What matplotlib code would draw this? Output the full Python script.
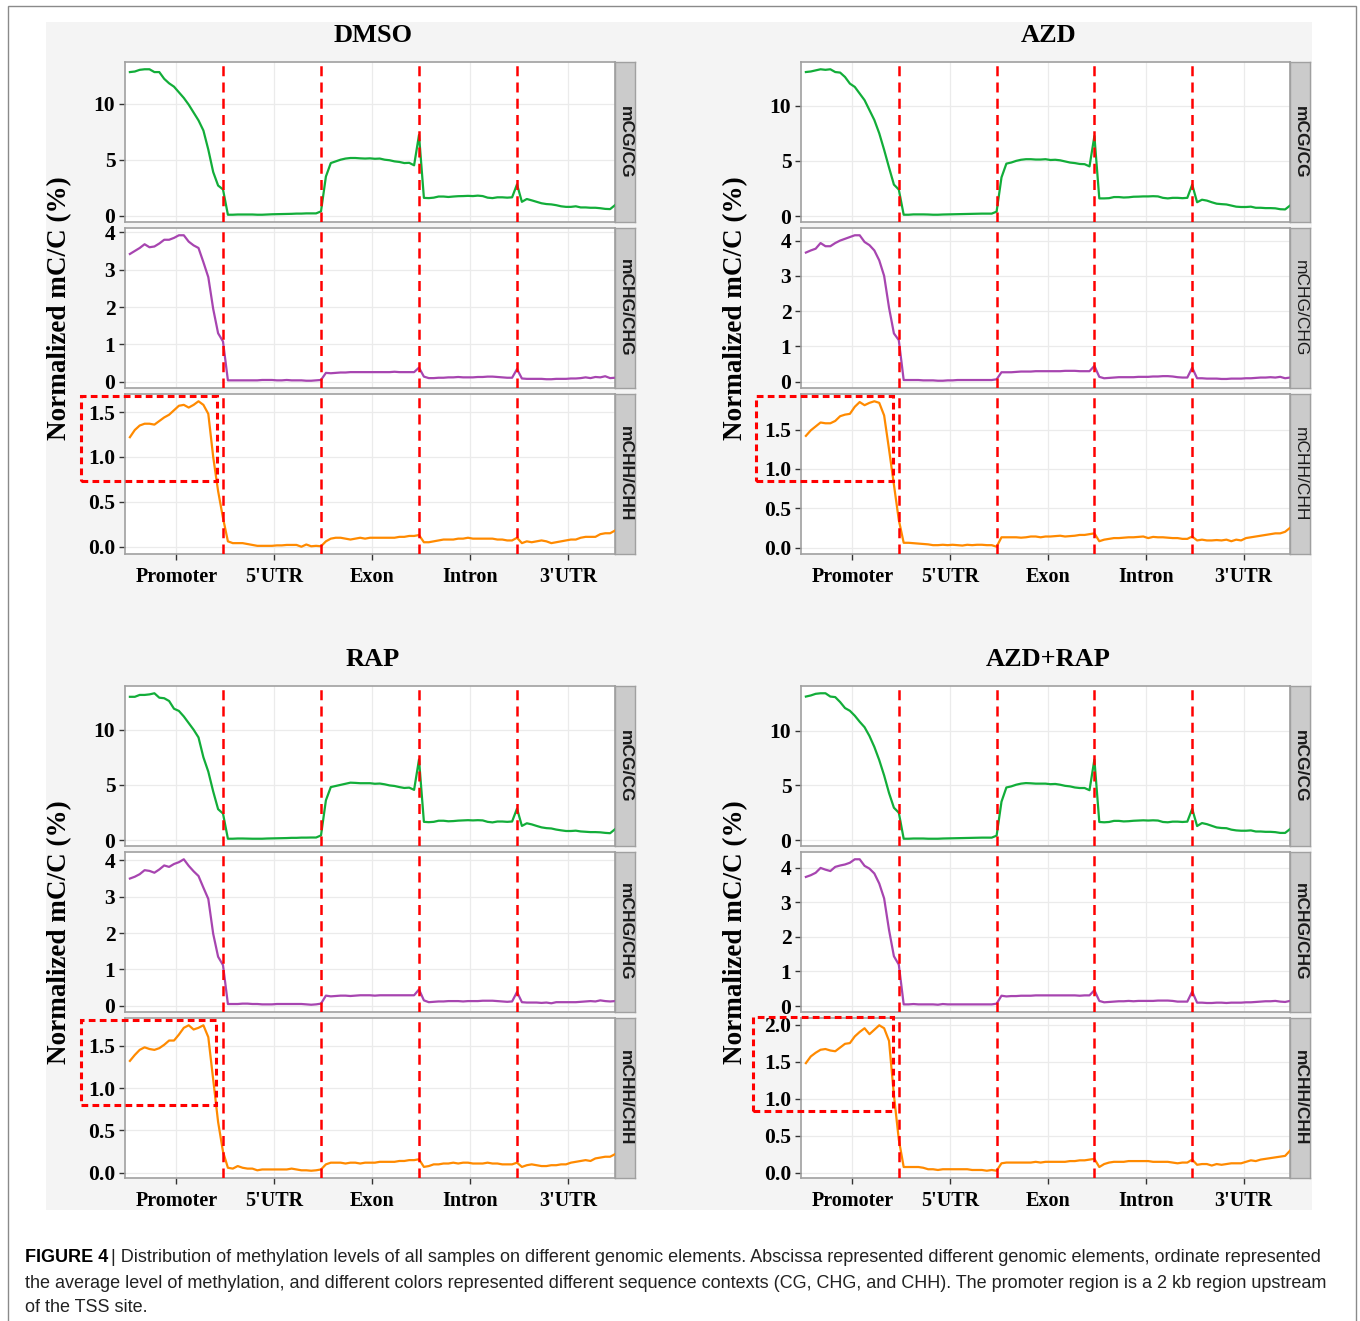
import matplotlib
matplotlib.use("Agg")
import matplotlib.pyplot as plt
from matplotlib.patches import Rectangle
from matplotlib.ticker import MultipleLocator, FormatStrFormatter

# ---- data ----
regions = ['Promoter', "5'UTR", 'Exon', 'Intron', "3'UTR"]
samples = ['DMSO', 'AZD', 'RAP', 'AZD+RAP']
contexts = ['mCG/CG', 'mCHG/CHG', 'mCHH/CHH']

# 20 bins per region, 100 bins in total
dmso_cg = [12.8, 12.85, 13.0, 13.05, 13.05, 12.8, 12.8, 12.2, 11.8, 11.5, 11.0, 10.5, 9.9, 9.2, 8.5, 7.6, 5.9, 3.9, 2.7, 2.35,
           0.1, 0.1, 0.12, 0.12, 0.12, 0.12, 0.1, 0.1, 0.12, 0.14, 0.15, 0.16, 0.17, 0.18, 0.2, 0.2, 0.22, 0.22, 0.22, 0.4,
           3.5, 4.7, 4.85, 5.0, 5.1, 5.15, 5.15, 5.12, 5.1, 5.12, 5.08, 5.1, 5.0, 4.95, 4.85, 4.8, 4.7, 4.72, 4.5, 7.2,
           1.6, 1.58, 1.62, 1.72, 1.72, 1.68, 1.72, 1.75, 1.76, 1.78, 1.76, 1.8, 1.76, 1.62, 1.58, 1.65, 1.65, 1.62, 1.65, 2.8,
           1.25, 1.5, 1.38, 1.25, 1.12, 1.05, 1.02, 0.95, 0.85, 0.8, 0.8, 0.85, 0.75, 0.75, 0.72, 0.72, 0.68, 0.62, 0.6, 0.95]
dmso_chg = [3.42, 3.5, 3.58, 3.68, 3.6, 3.62, 3.7, 3.8, 3.8, 3.85, 3.92, 3.92, 3.75, 3.65, 3.58, 3.2, 2.8, 1.95, 1.3, 1.08,
            0.04, 0.04, 0.04, 0.04, 0.04, 0.04, 0.04, 0.05, 0.05, 0.05, 0.04, 0.04, 0.05, 0.04, 0.04, 0.04, 0.03, 0.03, 0.04, 0.05,
            0.24, 0.23, 0.24, 0.25, 0.25, 0.26, 0.26, 0.26, 0.26, 0.26, 0.26, 0.26, 0.26, 0.26, 0.27, 0.26, 0.26, 0.26, 0.26, 0.38,
            0.14, 0.1, 0.1, 0.11, 0.11, 0.12, 0.12, 0.13, 0.12, 0.12, 0.12, 0.13, 0.13, 0.14, 0.14, 0.13, 0.12, 0.11, 0.11, 0.34,
            0.09, 0.08, 0.08, 0.08, 0.08, 0.07, 0.07, 0.08, 0.08, 0.08, 0.09, 0.09, 0.1, 0.12, 0.1, 0.13, 0.12, 0.15, 0.1, 0.11]
dmso_chh = [1.22, 1.3, 1.35, 1.37, 1.37, 1.36, 1.40, 1.44, 1.47, 1.52, 1.57, 1.58, 1.55, 1.58, 1.62, 1.58, 1.48, 1.0, 0.62, 0.32,
            0.06, 0.04, 0.04, 0.04, 0.03, 0.02, 0.01, 0.01, 0.01, 0.01, 0.015, 0.015, 0.02, 0.02, 0.02, 0.0, 0.025, 0.005, 0.01, 0.005,
            0.06, 0.09, 0.1, 0.1, 0.09, 0.08, 0.09, 0.1, 0.09, 0.1, 0.1, 0.1, 0.1, 0.1, 0.1, 0.11, 0.11, 0.12, 0.12, 0.13,
            0.05, 0.05, 0.06, 0.07, 0.08, 0.08, 0.08, 0.09, 0.09, 0.1, 0.09, 0.09, 0.09, 0.09, 0.09, 0.08, 0.08, 0.07, 0.07, 0.1,
            0.04, 0.06, 0.05, 0.06, 0.07, 0.06, 0.04, 0.05, 0.06, 0.07, 0.08, 0.08, 0.1, 0.11, 0.11, 0.11, 0.14, 0.15, 0.15, 0.18]

azd_cg = [13.05, 13.1, 13.2, 13.3, 13.25, 13.3, 13.05, 13.0, 12.6, 12.0, 11.7, 11.1, 10.5, 9.6, 8.7, 7.5, 6.0, 4.4, 2.85, 2.4,
          0.12, 0.12, 0.15, 0.15, 0.15, 0.14, 0.12, 0.12, 0.14, 0.15, 0.16, 0.17, 0.18, 0.19, 0.2, 0.21, 0.22, 0.22, 0.22, 0.4,
          3.5, 4.75, 4.85, 5.0, 5.1, 5.15, 5.15, 5.12, 5.12, 5.15, 5.08, 5.1, 5.05, 4.95, 4.85, 4.8, 4.72, 4.7, 4.5, 7.25,
          1.6, 1.6, 1.62, 1.72, 1.72, 1.68, 1.7, 1.75, 1.76, 1.78, 1.78, 1.8, 1.78, 1.65, 1.6, 1.65, 1.65, 1.62, 1.65, 2.85,
          1.25, 1.48, 1.4, 1.25, 1.12, 1.08, 1.05, 0.95, 0.85, 0.82, 0.82, 0.85, 0.75, 0.75, 0.72, 0.72, 0.7, 0.62, 0.6, 0.95]
azd_chg = [3.66, 3.72, 3.77, 3.93, 3.84, 3.84, 3.93, 4.0, 4.05, 4.1, 4.15, 4.15, 3.96, 3.87, 3.72, 3.44, 3.0, 2.1, 1.37, 1.18,
           0.05, 0.05, 0.05, 0.05, 0.04, 0.04, 0.04, 0.03, 0.03, 0.04, 0.04, 0.05, 0.05, 0.05, 0.05, 0.05, 0.05, 0.05, 0.05, 0.07,
           0.27, 0.27, 0.27, 0.28, 0.29, 0.29, 0.29, 0.3, 0.3, 0.3, 0.3, 0.3, 0.3, 0.31, 0.31, 0.31, 0.3, 0.3, 0.3, 0.45,
           0.14, 0.1, 0.11, 0.12, 0.13, 0.13, 0.13, 0.13, 0.14, 0.14, 0.14, 0.15, 0.15, 0.16, 0.16, 0.15, 0.13, 0.12, 0.12, 0.4,
           0.1, 0.1, 0.09, 0.09, 0.09, 0.08, 0.08, 0.09, 0.09, 0.09, 0.1, 0.1, 0.11, 0.12, 0.12, 0.13, 0.12, 0.14, 0.1, 0.12]
azd_chh = [1.42, 1.49, 1.54, 1.59, 1.58, 1.58, 1.61, 1.67, 1.69, 1.70, 1.79, 1.85, 1.81, 1.84, 1.86, 1.84, 1.68, 1.25, 0.8, 0.35,
           0.06, 0.06, 0.055, 0.05, 0.045, 0.04, 0.03, 0.03, 0.035, 0.03, 0.035, 0.03, 0.025, 0.035, 0.03, 0.035, 0.035, 0.03, 0.03, 0.01,
           0.13, 0.13, 0.13, 0.13, 0.125, 0.13, 0.14, 0.14, 0.13, 0.14, 0.14, 0.145, 0.15, 0.14, 0.145, 0.15, 0.16, 0.16, 0.17, 0.18,
           0.08, 0.1, 0.11, 0.12, 0.12, 0.125, 0.13, 0.13, 0.135, 0.14, 0.12, 0.135, 0.13, 0.13, 0.125, 0.12, 0.12, 0.11, 0.11, 0.14,
           0.09, 0.1, 0.09, 0.09, 0.095, 0.09, 0.1, 0.08, 0.1, 0.09, 0.12, 0.13, 0.14, 0.15, 0.16, 0.17, 0.18, 0.18, 0.2, 0.25]

rap_cg = [12.98, 12.98, 13.15, 13.15, 13.2, 13.3, 12.9, 12.85, 12.6, 11.9, 11.7, 11.2, 10.6, 10.0, 9.3, 7.5, 6.2, 4.4, 2.8, 2.4,
          0.12, 0.12, 0.14, 0.14, 0.13, 0.12, 0.12, 0.12, 0.14, 0.15, 0.16, 0.17, 0.18, 0.2, 0.2, 0.22, 0.22, 0.23, 0.23, 0.42,
          3.6, 4.8, 4.9, 5.0, 5.1, 5.2, 5.18, 5.15, 5.15, 5.15, 5.1, 5.12, 5.05, 4.95, 4.9, 4.8, 4.72, 4.75, 4.55, 7.3,
          1.65, 1.62, 1.65, 1.75, 1.75, 1.7, 1.72, 1.76, 1.78, 1.8, 1.78, 1.8, 1.78, 1.65, 1.6, 1.68, 1.68, 1.65, 1.68, 2.85,
          1.28, 1.52, 1.42, 1.28, 1.15, 1.08, 1.05, 0.95, 0.88, 0.82, 0.82, 0.85, 0.78, 0.75, 0.72, 0.72, 0.7, 0.65, 0.62, 0.98]
rap_chg = [3.5, 3.55, 3.62, 3.73, 3.71, 3.66, 3.75, 3.86, 3.82, 3.9, 3.95, 4.03, 3.85, 3.7, 3.57, 3.25, 2.94, 1.98, 1.35, 1.12,
           0.05, 0.05, 0.05, 0.06, 0.06, 0.05, 0.05, 0.04, 0.04, 0.04, 0.05, 0.05, 0.05, 0.05, 0.05, 0.05, 0.04, 0.03, 0.04, 0.06,
           0.28, 0.26, 0.27, 0.28, 0.28, 0.27, 0.28, 0.29, 0.29, 0.29, 0.28, 0.29, 0.29, 0.29, 0.29, 0.29, 0.29, 0.29, 0.29, 0.45,
           0.15, 0.1, 0.11, 0.12, 0.12, 0.13, 0.13, 0.13, 0.12, 0.13, 0.13, 0.13, 0.14, 0.14, 0.14, 0.13, 0.12, 0.11, 0.12, 0.38,
           0.1, 0.09, 0.09, 0.09, 0.08, 0.09, 0.07, 0.1, 0.1, 0.1, 0.1, 0.1, 0.11, 0.12, 0.13, 0.12, 0.15, 0.13, 0.12, 0.13]
rap_chh = [1.32, 1.39, 1.45, 1.48, 1.46, 1.45, 1.47, 1.51, 1.56, 1.56, 1.63, 1.71, 1.74, 1.69, 1.71, 1.74, 1.6, 1.1, 0.6, 0.25,
           0.06, 0.05, 0.08, 0.06, 0.05, 0.05, 0.03, 0.04, 0.04, 0.04, 0.04, 0.04, 0.04, 0.05, 0.04, 0.03, 0.03, 0.025, 0.03, 0.04,
           0.1, 0.12, 0.12, 0.12, 0.11, 0.12, 0.12, 0.11, 0.12, 0.12, 0.12, 0.13, 0.13, 0.13, 0.13, 0.14, 0.14, 0.15, 0.15, 0.16,
           0.07, 0.08, 0.1, 0.1, 0.11, 0.11, 0.12, 0.11, 0.12, 0.12, 0.11, 0.11, 0.11, 0.12, 0.11, 0.11, 0.1, 0.1, 0.1, 0.12,
           0.07, 0.09, 0.1, 0.09, 0.08, 0.08, 0.09, 0.09, 0.1, 0.1, 0.12, 0.13, 0.14, 0.15, 0.14, 0.17, 0.18, 0.19, 0.19, 0.22]

azdrap_cg = [13.1, 13.2, 13.35, 13.4, 13.4, 13.1, 13.05, 12.6, 12.05, 11.8, 11.35, 10.8, 10.3, 9.5, 8.5, 7.3, 5.9, 4.3, 2.95, 2.5,
             0.12, 0.12, 0.14, 0.14, 0.14, 0.12, 0.12, 0.12, 0.14, 0.15, 0.16, 0.17, 0.18, 0.19, 0.2, 0.21, 0.22, 0.22, 0.22, 0.4,
             3.5, 4.8, 4.9, 5.05, 5.15, 5.2, 5.18, 5.15, 5.15, 5.15, 5.1, 5.12, 5.05, 4.95, 4.9, 4.8, 4.75, 4.75, 4.55, 7.35,
             1.65, 1.62, 1.65, 1.75, 1.75, 1.7, 1.72, 1.76, 1.78, 1.8, 1.78, 1.8, 1.78, 1.65, 1.62, 1.68, 1.68, 1.65, 1.68, 2.85,
             1.28, 1.55, 1.45, 1.3, 1.15, 1.1, 1.08, 0.95, 0.88, 0.85, 0.85, 0.88, 0.78, 0.78, 0.75, 0.75, 0.72, 0.65, 0.65, 1.0]
azdrap_chg = [3.73, 3.78, 3.85, 3.99, 3.94, 3.9, 4.02, 4.06, 4.09, 4.14, 4.24, 4.24, 4.05, 3.97, 3.83, 3.54, 3.11, 2.2, 1.44, 1.2,
              0.05, 0.05, 0.06, 0.05, 0.05, 0.05, 0.05, 0.04, 0.06, 0.05, 0.05, 0.05, 0.05, 0.05, 0.05, 0.05, 0.05, 0.05, 0.05, 0.07,
              0.3, 0.28, 0.29, 0.29, 0.3, 0.3, 0.3, 0.31, 0.31, 0.31, 0.31, 0.31, 0.31, 0.31, 0.31, 0.31, 0.3, 0.31, 0.31, 0.46,
              0.15, 0.11, 0.12, 0.13, 0.14, 0.14, 0.15, 0.14, 0.15, 0.15, 0.15, 0.15, 0.16, 0.16, 0.16, 0.15, 0.13, 0.13, 0.13, 0.42,
              0.1, 0.1, 0.09, 0.09, 0.1, 0.1, 0.09, 0.1, 0.1, 0.1, 0.11, 0.11, 0.12, 0.13, 0.14, 0.14, 0.15, 0.13, 0.12, 0.15]
azdrap_chh = [1.48, 1.57, 1.62, 1.66, 1.67, 1.65, 1.64, 1.69, 1.74, 1.75, 1.84, 1.9, 1.95, 1.87, 1.93, 1.99, 1.95, 1.78, 1.05, 0.45,
              0.08, 0.08, 0.08, 0.08, 0.07, 0.05, 0.05, 0.04, 0.05, 0.05, 0.05, 0.05, 0.05, 0.05, 0.04, 0.04, 0.04, 0.03, 0.04, 0.03,
              0.13, 0.14, 0.14, 0.14, 0.14, 0.14, 0.14, 0.15, 0.14, 0.15, 0.15, 0.15, 0.15, 0.15, 0.16, 0.16, 0.17, 0.17, 0.18, 0.19,
              0.08, 0.12, 0.14, 0.15, 0.15, 0.15, 0.16, 0.16, 0.16, 0.16, 0.16, 0.15, 0.15, 0.15, 0.15, 0.14, 0.13, 0.14, 0.14, 0.18,
              0.11, 0.12, 0.12, 0.1, 0.12, 0.11, 0.12, 0.13, 0.13, 0.13, 0.15, 0.17, 0.16, 0.18, 0.19, 0.2, 0.21, 0.22, 0.23, 0.3]

series = {
    'DMSO': [dmso_cg, dmso_chg, dmso_chh],
    'AZD': [azd_cg, azd_chg, azd_chh],
    'RAP': [rap_cg, rap_chg, rap_chh],
    'AZD+RAP': [azdrap_cg, azdrap_chg, azdrap_chh],
}

caption_lines = [
    "Distribution of methylation levels of all samples on different genomic elements. Abscissa represented different genomic elements, ordinate represented",
    "the average level of methylation, and different colors represented different sequence contexts (CG, CHG, and CHH). The promoter region is a 2 kb region upstream",
    "of the TSS site.",
]

# ---- style ----
W, H = 1360, 1321
colors = ['#12AD39', '#A745B0', '#FF8A00']
serif = 'Liberation Serif'
sans = 'Liberation Sans'
n_bins = 20
x = list(range(1, 5 * n_bins + 1))

fig = plt.figure(figsize=(W / 100, H / 100), dpi=100)
fig.patch.set_facecolor('white')


def fx(px):
    return px / W


def fy(py):
    return 1 - py / H


# outer border and grey plotting background (drawn behind the axes)
fig.patches.append(Rectangle((fx(8), fy(1330)), fx(1348), 1324 / H, transform=fig.transFigure,
                             fill=False, edgecolor='#8a8a8a', lw=1.0, zorder=-2))
fig.patches.append(Rectangle((fx(46), fy(1210)), fx(1266), (1210 - 22) / H, transform=fig.transFigure,
                             facecolor='#f4f4f4', edgecolor='none', zorder=-2))

# panel geometry in pixels: (left, width, top of first facet)
layout = {
    'DMSO': (125, 490, 62),
    'AZD': (801, 489, 62),
    'RAP': (125, 490, 686),
    'AZD+RAP': (801, 489, 686),
}
panel_h, gap, strip_w = 160, 6, 20
# red highlight box around promoter CHH (axes fraction: x0, y0, x1, y1)
boxes = {
    'DMSO': (-0.09, 0.456, 0.188, 0.99),
    'AZD': (-0.092, 0.456, 0.188, 0.99),
    'RAP': (-0.09, 0.456, 0.186, 0.985),
    'AZD+RAP': (-0.098, 0.42, 0.188, 1.006),
}

for s in samples:
    left, width, top = layout[s]
    for k, ctx in enumerate(contexts):
        t = top + k * (panel_h + gap)
        ax = fig.add_axes([fx(left), fy(t + panel_h), width / W, panel_h / H])
        ax.set_zorder(1)
        ax.set_facecolor('white')
        vals = series[s][k]
        ax.plot(x, vals, color=colors[k], lw=1.6, zorder=3)
        for b in range(1, 5):
            ax.axvline(b * n_bins, color='#FF0000', lw=1.8, ls=(0, (4, 2.5)), zorder=4)
        lo, hi = min(vals), max(vals)
        pad = (hi - lo) * 0.05
        ax.set_ylim(lo - pad, hi + pad)
        ax.set_xlim(0, 5 * n_bins)
        if k == 0:
            ax.yaxis.set_major_locator(MultipleLocator(5))
            ax.yaxis.set_major_formatter(FormatStrFormatter('%d'))
        elif k == 1:
            ax.yaxis.set_major_locator(MultipleLocator(1))
            ax.yaxis.set_major_formatter(FormatStrFormatter('%d'))
        else:
            ax.yaxis.set_major_locator(MultipleLocator(0.5))
            ax.yaxis.set_major_formatter(FormatStrFormatter('%.1f'))
        ax.set_xticks([i * n_bins + n_bins / 2 + 0.5 for i in range(5)])
        ax.tick_params(axis='both', length=4.5, width=1.0, color='#333333', pad=2.5)
        if k == 2:
            ax.set_xticklabels(regions, fontfamily=serif, fontweight='bold', fontsize=14.5)
            ax.tick_params(axis='x', pad=5)
        else:
            ax.set_xticklabels([])
            ax.tick_params(axis='x', length=0)
        for lab in ax.get_yticklabels():
            lab.set_fontfamily(serif)
            lab.set_fontweight('bold')
            lab.set_fontsize(15.5)
        ax.grid(True, color='#EBEBEB', lw=0.9, zorder=0)
        ax.set_axisbelow(True)
        for sp in ax.spines.values():
            sp.set_color('#A0A0A0')
            sp.set_linewidth(1.2)

        # facet strip on the right
        sax = fig.add_axes([fx(left + width), fy(t + panel_h), strip_w / W, panel_h / H])
        sax.set_zorder(1)
        sax.set_facecolor('#CBCBCB')
        sax.set_xticks([])
        sax.set_yticks([])
        for sp in sax.spines.values():
            sp.set_color('#A0A0A0')
            sp.set_linewidth(1.0)
        weight = 'normal' if (s == 'AZD' and k > 0) else 'bold'
        sax.text(0.5, 0.5, ctx, rotation=-90, ha='center', va='center', fontsize=12.5,
                 fontfamily=sans, fontweight=weight, color='#1a1a1a', transform=sax.transAxes)

        if k == 2:
            ax.set_zorder(2)
            bx0, by0, bx1, by1 = boxes[s]
            ax.add_patch(Rectangle((bx0, by0), bx1 - bx0, by1 - by0, transform=ax.transAxes,
                                   fill=False, edgecolor='#FF0000', lw=2.2, ls=(0, (2.2, 1.4)),
                                   clip_on=False, zorder=6))

    fig.text(fx(left + width / 2 + 3), fy(top - 27), s, ha='center', va='center',
             fontfamily=serif, fontweight='bold', fontsize=19)
    fig.text(fx(left - 65), fy(top + (3 * panel_h + 2 * gap) / 2), 'Normalized mC/C (%)',
             rotation=90, ha='center', va='center', fontfamily=serif, fontweight='bold', fontsize=19.5)

# caption
cap_fs = 13
cap_y = [1258, 1283, 1307]
bold = fig.text(fx(25), fy(cap_y[0]), 'FIGURE 4', ha='left', va='center', fontfamily=sans,
                fontweight='bold', fontsize=cap_fs)
fig.canvas.draw()
bb = bold.get_window_extent(renderer=fig.canvas.get_renderer())
fig.text(bb.x1 / W + 3 / W, fy(cap_y[0]), '| ' + caption_lines[0], ha='left', va='center',
         fontfamily=sans, fontsize=cap_fs, color='#222222')
for yy, line in zip(cap_y[1:], caption_lines[1:]):
    fig.text(fx(25), fy(yy), line, ha='left', va='center', fontfamily=sans, fontsize=cap_fs, color='#222222')

fig.savefig('out.png', dpi=100)
